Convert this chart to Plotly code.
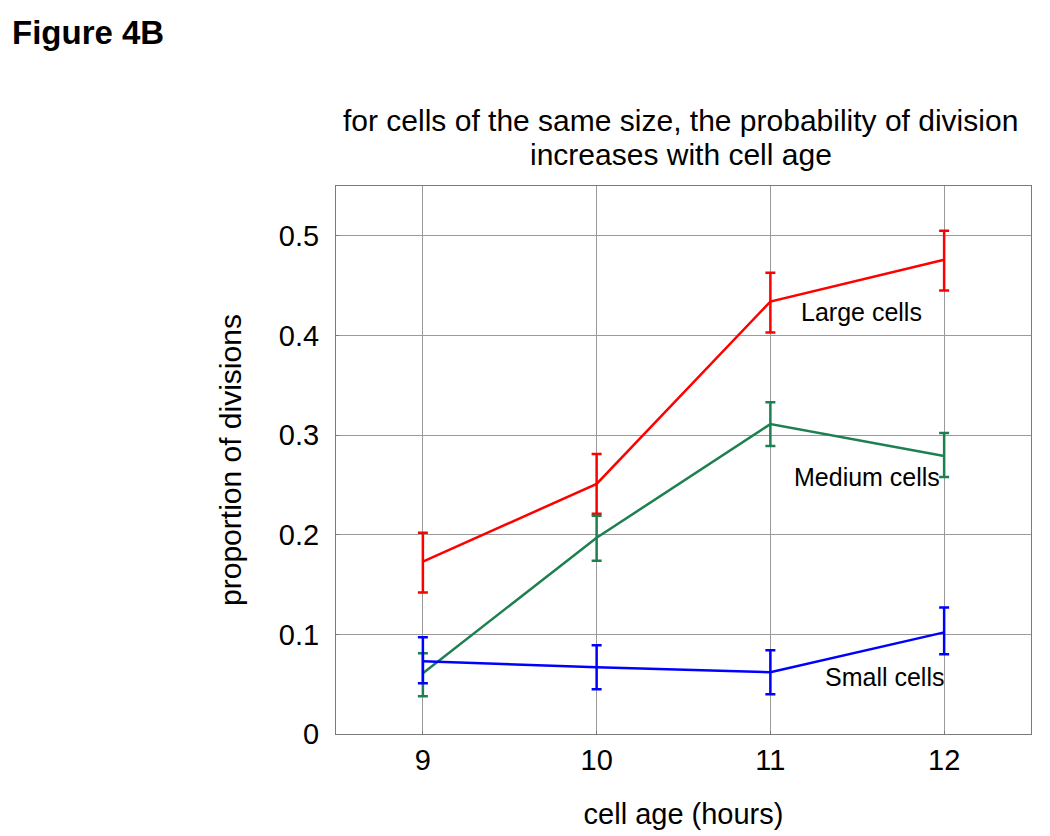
import plotly.graph_objects as go

# cell age (hours)
ages = [9, 10, 11, 12]

large = [0.173, 0.251, 0.434, 0.476]
large_hi = [0.202, 0.281, 0.463, 0.505]
large_lo = [0.142, 0.221, 0.403, 0.445]

medium = [0.061, 0.197, 0.311, 0.279]
medium_hi = [0.081, 0.219, 0.333, 0.302]
medium_lo = [0.038, 0.174, 0.289, 0.258]

small = [0.073, 0.067, 0.062, 0.102]
small_hi = [0.097, 0.089, 0.084, 0.127]
small_lo = [0.051, 0.045, 0.040, 0.080]

series = [
    ("Large cells", large, large_hi, large_lo, "#ff0000"),
    ("Medium cells", medium, medium_hi, medium_lo, "#1e8050"),
    ("Small cells", small, small_hi, small_lo, "#0000ff"),
]

fig = go.Figure()
for name, y, hi, lo, col in series:
    fig.add_trace(go.Scatter(
        x=ages, y=y, mode="lines", name=name,
        line=dict(color=col, width=2.5),
        error_y=dict(type="data", symmetric=False,
                     array=[h - v for h, v in zip(hi, y)],
                     arrayminus=[v - l for l, v in zip(lo, y)],
                     color=col, thickness=2.5, width=5),
        showlegend=False,
    ))

# labels beside the lines
labels = [("Large cells", 11.527, 0.424), ("Medium cells", 11.556, 0.258), ("Small cells", 11.654, 0.057)]
for txt, lx, ly in labels:
    fig.add_annotation(x=lx, y=ly, text=txt, showarrow=False,
                       font=dict(size=25, color="black"))

fig.add_annotation(xref="paper", yref="paper", x=-0.469, y=1.281, xanchor="left", yanchor="middle",
                   text="<b>Figure 4B</b>", showarrow=False, font=dict(size=33, color="black"))

# title, two lines
title_lines = ["for cells of the same size, the probability of division", "increases with cell age"]
for line, ty in zip(title_lines, [1.119, 1.057]):
    fig.add_annotation(xref="paper", yref="paper", x=0.496, y=ty, xanchor="center", yanchor="middle",
                       text=line, showarrow=False, font=dict(size=30, color="black"))

axis_style = dict(showline=True, mirror=True, linecolor="#7a7a7a", linewidth=1,
                  showgrid=True, gridcolor="#9a9a9a", gridwidth=1,
                  zeroline=False, ticks="inside", ticklen=3, tickcolor="#7a7a7a",
                  tickfont=dict(size=29, color="black"))

fig.update_layout(
    width=1050, height=836,
    margin=dict(l=328, r=27, t=178, b=110),
    paper_bgcolor="white", plot_bgcolor="white",
    font=dict(family="Liberation Sans, Arial, sans-serif", color="black"),
    xaxis=dict(range=[8.5, 12.5], tickvals=ages, ticktext=[str(a) for a in ages],
               title=dict(text="cell age (hours)", font=dict(size=29), standoff=28),
               **axis_style),
    yaxis=dict(range=[0, 0.55], tickvals=[0, 0.1, 0.2, 0.3, 0.4, 0.5],
               ticktext=["0", "0.1", "0.2", "0.3", "0.4", "0.5"],
               ticklabelstandoff=10,
               title=dict(text="proportion of divisions", font=dict(size=30), standoff=28),
               **axis_style),
)

fig.write_html("out.html")
